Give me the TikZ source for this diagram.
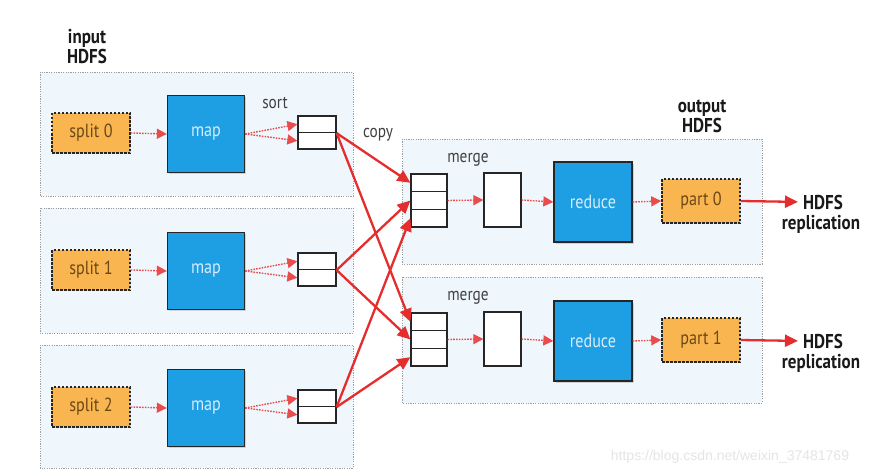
\documentclass[tikz,border=0pt]{standalone}
\usepackage{fontspec}
\setmainfont{PT Sans}[FakeStretch=0.85]
\newfontfamily\wmfont{Liberation Sans}
\usetikzlibrary{arrows.meta,shadows}
\definecolor{panelfill}{HTML}{F0F7FC}
\definecolor{mapblue}{HTML}{1E9FE3}
\definecolor{splitorange}{HTML}{F9B650}
\definecolor{arrowred}{HTML}{E52D2D}
\definecolor{maptext}{HTML}{D6ECFA}
\definecolor{splittext}{HTML}{6A4716}
\begin{document}
\begin{tikzpicture}[x=1pt,y=-1pt,
  font=\fontsize{18}{20}\selectfont,
  panel/.style={draw=gray!75, dash pattern=on 1.2pt off 1.2pt, fill=panelfill, line width=0.9pt},
  bluebox/.style={draw=black!85, line width=1.3pt, fill=mapblue, text=maptext, inner sep=0pt,
    font=\fontsize{19}{21}\selectfont,
    drop shadow={shadow xshift=1.5pt, shadow yshift=-1.5pt, opacity=0.3}},
  orangebox/.style={draw=black!85, line width=1.6pt, dash pattern=on 2.5pt off 1.5pt, fill=splitorange,
    text=splittext, minimum width=78pt, inner sep=0pt, font=\fontsize{19}{21}\selectfont,
    drop shadow={shadow xshift=1.2pt, shadow yshift=-1.2pt, opacity=0.25}},
  cell/.style={draw=black!85, line width=1.2pt, fill=white, inner sep=0pt,
    drop shadow={shadow xshift=1.2pt, shadow yshift=-1.2pt, opacity=0.25}},
  dotarrow/.style={draw=arrowred!85, line width=1.4pt, dash pattern=on 1.6pt off 1.2pt,
    -{Triangle[length=10pt,width=10pt]}},
  copyarrow/.style={draw=arrowred, line width=2.3pt, -{Triangle[length=13pt,width=12pt]}},
  lab/.style={text=black!75, inner sep=0pt},
  boldlab/.style={font=\bfseries\fontsize{20}{20}\selectfont, text=black!90, inner sep=0pt, align=center}
]
\useasboundingbox[fill=white] (0,0) rectangle (875,476);

% panels
\draw[panel] (40,72) rectangle (353,196);
\draw[panel] (40,208) rectangle (353,333);
\draw[panel] (40,345) rectangle (353,468);
\draw[panel] (402,139) rectangle (762,264);
\draw[panel] (402,277) rectangle (762,403);

% labels
\node[boldlab] (inlab) at (87,47) {input\\HDFS};
\node[boldlab] (outlab) at (702,116) {output\\HDFS};
\node[lab] (sortlab) at (275,103) {sort};
\node[lab] (copylab) at (378,135) {copy};
\node[lab] (mergeA) at (468,160) {merge};
\node[lab] (mergeB) at (468,298) {merge};

% map side
\foreach \i/\dy in {0/0,1/137,2/274}{
  \node[orangebox, minimum height=40pt] (split\i) at (91,133+\dy) {split \i};
  \node[bluebox, minimum width=77pt, minimum height=77pt] (map\i) at (206,134+\dy) {map};
  \node[cell, minimum width=38pt, minimum height=16.5pt] (s\i a) at (317,124.25+\dy) {};
  \node[cell, minimum width=38pt, minimum height=16.5pt] (s\i b) at (317,140.75+\dy) {};
  \draw[dotarrow] (split\i.east) -- (map\i.west);
  \draw[dotarrow] (map\i.east) -- (s\i a.west);
  \draw[dotarrow] (map\i.east) -- (s\i b.west);
}

% reduce side
\foreach \r/\dy in {A/0,B/139}{
  \node[cell, minimum width=36pt, minimum height=17.67pt] (m\r1) at (429,182.8+\dy) {};
  \node[cell, minimum width=36pt, minimum height=17.67pt] (m\r2) at (429,200.5+\dy) {};
  \node[cell, minimum width=36pt, minimum height=17.67pt] (m\r3) at (429,218.2+\dy) {};
  \node[cell, minimum width=37pt, minimum height=54pt] (g\r) at (502.5,200+\dy) {};
  \node[bluebox, minimum width=78pt, minimum height=80pt] (red\r) at (593,202+\dy) {reduce};
  \draw[dotarrow] (m\r2.east) -- (g\r.west);
  \draw[dotarrow] (g\r.east) -- (red\r.west);
}
\node[orangebox, minimum height=44pt] (partA) at (701,201) {part 0};
\node[orangebox, minimum height=44pt] (partB) at (701,340) {part 1};
\draw[dotarrow] (redA.east) -- (partA.west);
\draw[dotarrow] (redB.east) -- (partB.west);

% HDFS replication
\node[boldlab] (hA) at (823,202) {HDFS};
\node[boldlab] (rA) at (821,224) {replication};
\node[boldlab] (hB) at (823,341) {HDFS};
\node[boldlab] (rB) at (821,363) {replication};
\draw[copyarrow, shorten >=5pt] (partA.east) -- (hA.west);
\draw[copyarrow, shorten >=5pt] (partB.east) -- (hB.west);

% copy arrows
\draw[copyarrow] (s0a.south east) -- (mA1.west);
\draw[copyarrow] (s0a.south east) -- (mB1.west);
\draw[copyarrow] (s1a.south east) -- (mA2.west);
\draw[copyarrow] (s1a.south east) -- (mB2.west);
\draw[copyarrow] (s2a.south east) -- (mA3.west);
\draw[copyarrow] (s2a.south east) -- (mB3.west);

% watermark
\node[text=gray!20, font=\wmfont\fontsize{14}{16}\selectfont, inner sep=0pt] (wm) at (730,457) {https://blog.csdn.net/weixin\_37481769};
\end{tikzpicture}
\end{document}
